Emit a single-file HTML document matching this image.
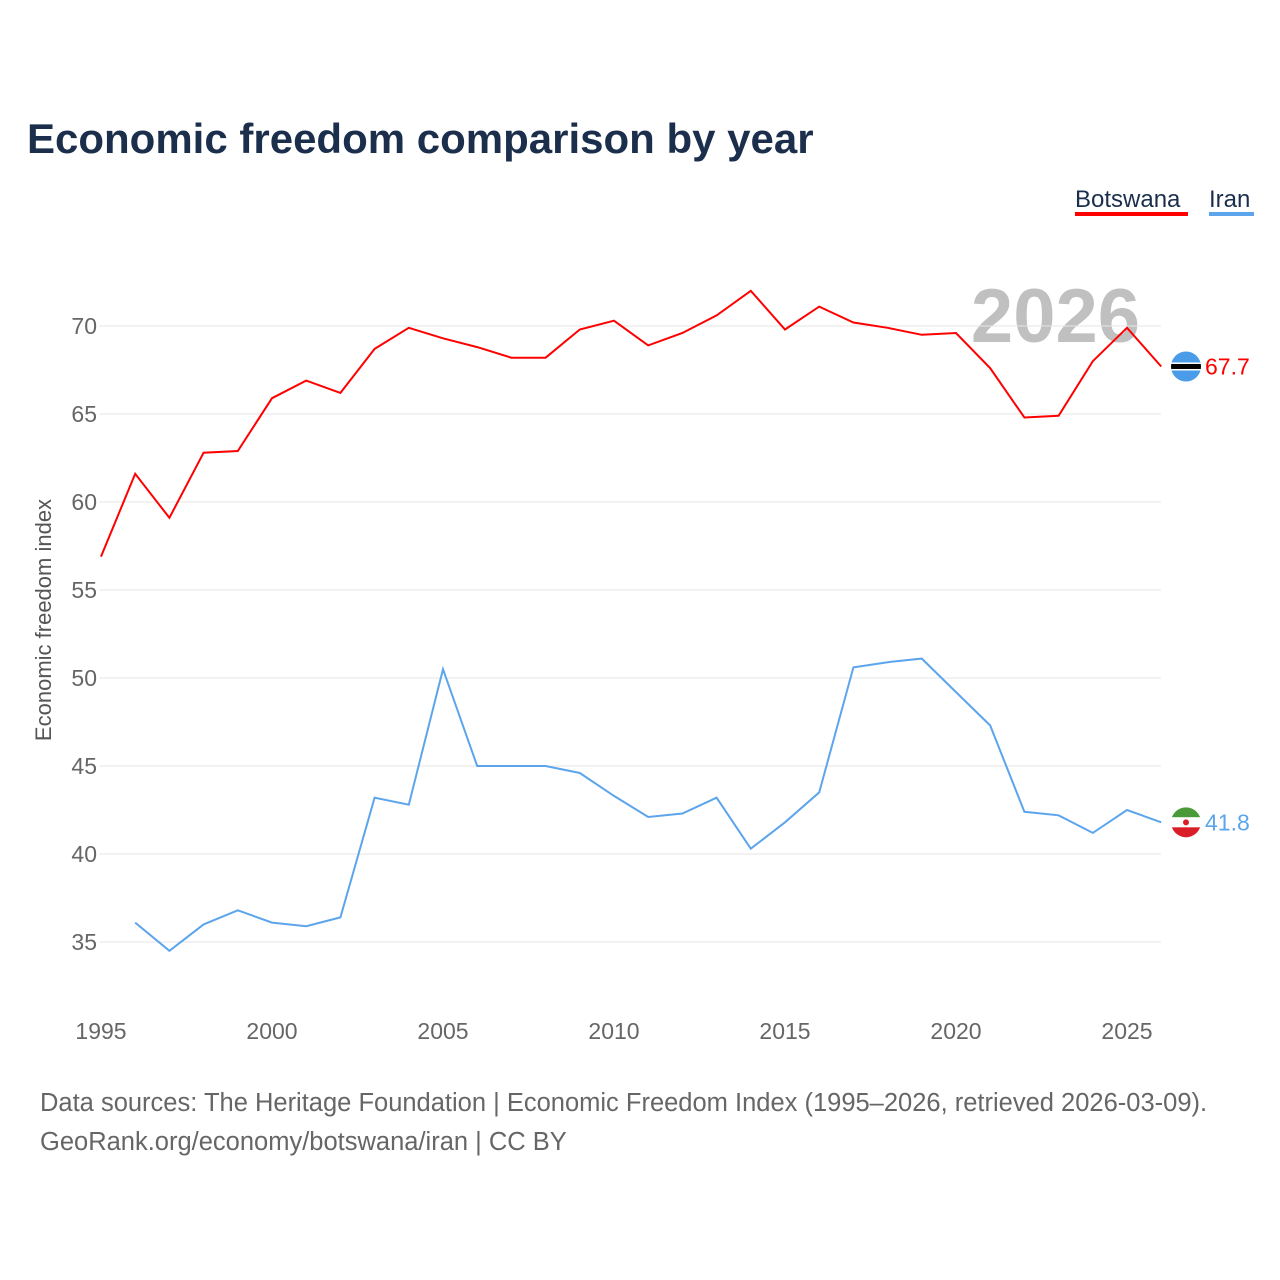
<!DOCTYPE html>
<html><head><meta charset="utf-8">
<style>
body{margin:0;background:#fff;font-family:"Liberation Sans",sans-serif;}
svg{display:block}
</style></head>
<body>
<svg id="chart" width="1280" height="1280">
<defs>
<clipPath id="cb"><circle cx="1186" cy="0" r="15" id="cbc"/></clipPath>
<clipPath id="ci"><circle cx="1186" cy="0" r="15" id="cic"/></clipPath>
</defs>
<text x="27" y="153" font-size="42" font-weight="bold" fill="#1b2f4d">Economic freedom comparison by year</text>
<g>
<g><text x="1075" y="207" font-size="24" fill="#1b2f4d">Botswana</text><rect x="1075" y="212" width="113" height="4" fill="#ff0000"/></g>
<g><text x="1209" y="207" font-size="24" fill="#1b2f4d">Iran</text><rect x="1209" y="212" width="45" height="4" fill="#5ca5ec"/></g>
</g>
<text x="1140" y="342" font-size="76" font-weight="bold" fill="#c0c0c0" text-anchor="end">2026</text>
<text transform="translate(51,620) rotate(-90)" font-size="22" fill="#555" text-anchor="middle">Economic freedom index</text>
<g id="grid"></g><g id="xt"></g><g id="series"></g>
<text x="40" y="1111" font-size="25.5" fill="#666">Data sources: The Heritage Foundation | Economic Freedom Index (1995–2026, retrieved 2026-03-09).</text>
<text x="40" y="1150" font-size="25.5" fill="#666">GeoRank.org/economy/botswana/iran | CC BY</text>
</svg>
<script>
const years=[1995,1996,1997,1998,1999,2000,2001,2002,2003,2004,2005,2006,2007,2008,2009,2010,2011,2012,2013,2014,2015,2016,2017,2018,2019,2020,2021,2022,2023,2024,2025,2026];
const botswana=[56.9,61.6,59.1,62.8,62.9,65.9,66.9,66.2,68.7,69.9,69.3,68.8,68.2,68.2,69.8,70.3,68.9,69.6,70.6,72.0,69.8,71.1,70.2,69.9,69.5,69.6,67.6,64.8,64.9,68.0,69.9,67.7];
const iran=[null,36.1,34.5,36.0,36.8,36.1,35.9,36.4,43.2,42.8,50.5,45.0,45.0,45.0,44.6,43.3,42.1,42.3,43.2,40.3,41.8,43.5,50.6,50.9,51.1,49.2,47.3,42.4,42.2,41.2,42.5,41.8];
const yTicks=[35,40,45,50,55,60,65,70];
const xTicks=[1995,2000,2005,2010,2015,2020,2025];
const NS="http://www.w3.org/2000/svg";
const X=v=>101+(v-1995)*34.2;
const Y=v=>326+(70-v)*17.6;
function mk(t,a,p){const e=document.createElementNS(NS,t);for(const k in a)e.setAttribute(k,a[k]);p.appendChild(e);return e;}
const grid=document.getElementById('grid');
yTicks.forEach(t=>{
 const l=mk('line',{x1:100,x2:1161,y1:Y(t),y2:Y(t),stroke:'#e6e6e6','stroke-width':1},grid);
 
 
 const tx=mk('text',{x:97,y:Y(t)+8,'font-size':23,fill:'#666','text-anchor':'end'},grid);tx.textContent=t;
 
 
});
const xt=document.getElementById('xt');
xTicks.forEach(t=>{
 const tx=mk('text',{x:X(t),y:1039,'font-size':23,fill:'#666','text-anchor':'middle'},xt);tx.textContent=t;
 
 
});
const sg=document.getElementById('series');
function line(vals,color,name){
 let d='';vals.forEach((v,i)=>{if(v==null)return;d+=(d?'L':'M')+X(years[i]).toFixed(1)+','+Y(v).toFixed(1);});
 const p=mk('path',{d:d,fill:'none',stroke:color,'stroke-width':2},sg);
 
 
 const last=vals[vals.length-1];const cy=Y(last);
 const t=mk('text',{x:1205,y:cy+8,'font-size':23,fill:color},sg);t.textContent=last.toFixed(1);
 
 
 return cy;
}
const by=line(botswana,'#ff0000','botswana');
document.getElementById('cbc').setAttribute('cy',by);
const fb=mk('g',{'clip-path':'url(#cb)'},sg);


mk('rect',{x:1170,y:by-16,width:32,height:32,fill:'#4a9be8'},fb);
mk('rect',{x:1170,y:by-4,width:32,height:8,fill:'#fff'},fb);
mk('rect',{x:1170,y:by-2.5,width:32,height:5,fill:'#000'},fb);
const iy=line(iran,'#5ca5ec','iran');
document.getElementById('cic').setAttribute('cy',iy);
const fi=mk('g',{'clip-path':'url(#ci)'},sg);


mk('rect',{x:1170,y:iy-16,width:32,height:11,fill:'#4b9a3a'},fi);
mk('rect',{x:1170,y:iy-5,width:32,height:10,fill:'#fff'},fi);
mk('rect',{x:1170,y:iy+5,width:32,height:11,fill:'#da1e28'},fi);
mk('circle',{cx:1186,cy:iy,r:3,fill:'#da1e28'},fi);
</script>
</body></html>
